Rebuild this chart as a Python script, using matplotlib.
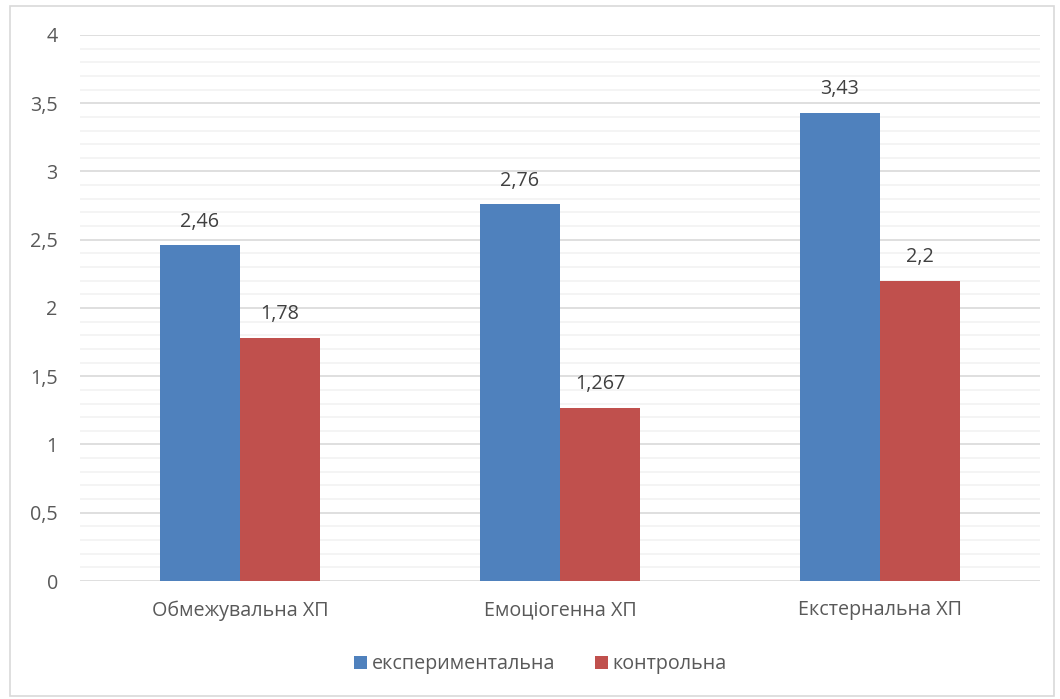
import numpy as np
import matplotlib.pyplot as plt
from matplotlib.patches import Rectangle

plt.rcParams['font.family'] = ['Open Sans', 'DejaVu Sans']

categories = ['Обмежувальна ХП', 'Емоціогенна ХП', 'Екстернальна ХП']
experimental = [2.46, 2.76, 3.43]
control = [1.78, 1.267, 2.2]
experimental_labels = ['2,46', '2,76', '3,43']
control_labels = ['1,78', '1,267', '2,2']
y_ticks = [0, 0.5, 1, 1.5, 2, 2.5, 3, 3.5, 4]
y_tick_labels = ['0', '0,5', '1', '1,5', '2', '2,5', '3', '3,5', '4']

text_color = '#595959'
blue = '#4F81BD'
red = '#C0504D'
fs = 14.2

fig = plt.figure(figsize=(10.6, 6.99), dpi=100)
ax = fig.add_axes([0.0755, 0.1688, 0.9055, 0.7812])

# рамка навколо діаграми
fig.patches.append(Rectangle((0.009, 0.004), 0.985, 0.987, transform=fig.transFigure,
                             fill=False, edgecolor='#D9D9D9', linewidth=1.2))

x = np.arange(len(categories))
w = 0.25
b1 = ax.bar(x - w / 2, experimental, w, color=blue, label='експериментальна', zorder=3)
b2 = ax.bar(x + w / 2, control, w, color=red, label='контрольна', zorder=3)

for bars, labels in ((b1, experimental_labels), (b2, control_labels)):
    for rect, lab in zip(bars, labels):
        ax.text(rect.get_x() + rect.get_width() / 2, rect.get_height() + 0.1, lab,
                ha='center', va='bottom', fontsize=fs, color='#404040')

ax.set_xlim(-0.5, 2.5)
ax.set_ylim(0, 4)
ax.set_yticks(y_ticks)
ax.set_yticklabels(y_tick_labels)
ax.set_yticks(np.arange(0, 4.01, 0.1), minor=True)
ax.set_xticks(x)
ax.set_xticklabels(categories)
ax.tick_params(axis='both', length=0, labelsize=fs, labelcolor=text_color)
ax.tick_params(axis='y', which='minor', length=0)
ax.tick_params(axis='y', pad=16)
ax.tick_params(axis='x', pad=14)

ax.grid(axis='y', which='major', color='#D9D9D9', linewidth=1.2, zorder=0)
ax.grid(axis='y', which='minor', color='#F2F2F2', linewidth=1.2, zorder=0)
for s in ax.spines.values():
    s.set_visible(False)

leg = fig.legend(handles=[b1, b2], loc='center', bbox_to_anchor=(0.51, 0.05), ncol=2,
                 frameon=False, fontsize=fs, handlelength=0.65, handleheight=0.65,
                 handletextpad=0.25, columnspacing=2.0)
for t in leg.get_texts():
    t.set_color(text_color)

fig.savefig('out.png', dpi=100)
